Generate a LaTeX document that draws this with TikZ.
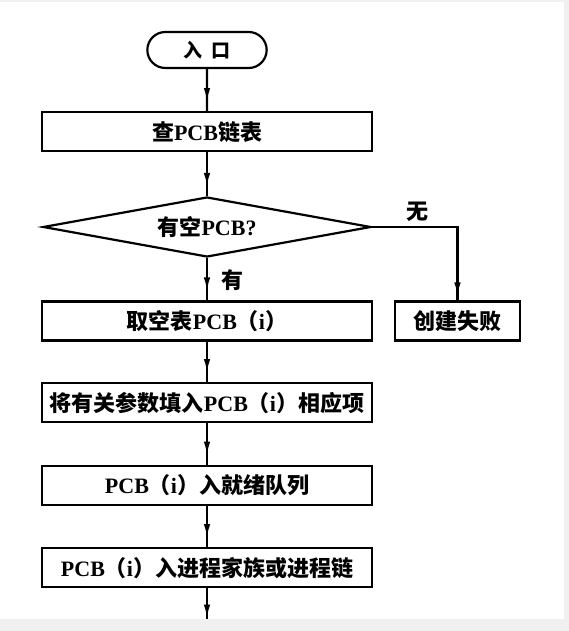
\documentclass[tikz,border=0pt]{standalone}
\usepackage{fontspec}
\setmainfont{Liberation Serif}
\newfontfamily\cjk{Noto Sans CJK SC}
\usepackage{tikz}
\usetikzlibrary{positioning, arrows.meta, shapes, decorations.markings}
\newcommand{\zh}[1]{{\cjk #1}}

\begin{document}
\begin{tikzpicture}[x=1pt, y=-1pt,
        every node/.style={font=\fontsize{22}{24}\selectfont\bfseries},
        box/.style={draw, line width=2.2pt, minimum width=330pt, minimum height=39pt, inner sep=0pt},
        flow/.style={line width=2.2pt, postaction={decorate}, decoration={markings, mark=at position -#1 with {\arrow{Latex[length=14pt, width=6.5pt]}}}},
        flow/.default=9pt]
        \fill[black!6] (0,0) rectangle (569,631);
        \fill[white] (0,2) rectangle (564,619);
        \useasboundingbox (0,0) rectangle (569,631);
        \node[draw, rounded rectangle, line width=2.2pt, minimum width=126pt, minimum height=36pt, font=\fontsize{19}{20}\selectfont\bfseries] (entry) at (207,50) {\zh{入\hspace{9pt}口}};
        \node[box] (chk) at (207,131.7) {\zh{查}PCB\zh{链表}};
        \node[draw, diamond, aspect=5.5, line width=2.2pt, minimum width=328pt, minimum height=60pt, inner sep=0pt] (ask) at (207,227) {\zh{有空}PCB?};
        \node[box] (take) at (207,321) {\zh{取空表}PCB\zh{（}i\zh{）}};
        \node[box] (fill) at (207,402.7) {\zh{将有关参数填入}PCB\zh{（}i\zh{）相应项}};
        \node[box] (ready) at (207,485.2) {PCB\zh{（}i\zh{）入就绪队列}};
        \node[box] (link) at (207,567.7) {PCB\zh{（}i\zh{）入进程家族或进程链}};
        \node[box, minimum width=125pt] (fail) at (457.5,321) {\zh{创建失败}};
        \coordinate (out) at (207,619);
        \foreach \a/\b in {entry/chk, chk/ask, ask/take, take/fill, fill/ready, ready/link} \draw[flow] (\a) -- (\b);
        \draw[flow=0.5pt] (link) -- (out);
        \draw[flow=4pt] (ask.east) -| (fail);
        \node (no) at (417,212) {\zh{无}};
        \node (yes) at (232,280) {\zh{有}};
    \end{tikzpicture}
\end{document}
